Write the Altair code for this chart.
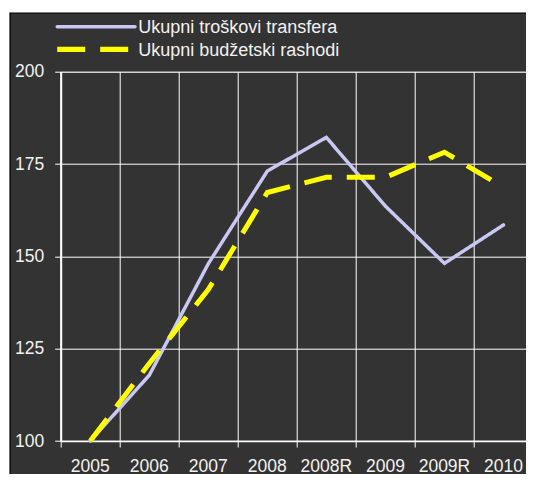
import altair as alt
import pandas as pd

categories = ["2005", "2006", "2007", "2008", "2008R", "2009", "2009R", "2010"]
series_names = ["Ukupni troškovi transfera", "Ukupni budžetski rashodi"]
transfer = [100, 117.8, 148.0, 173.1, 182.2, 163.6, 148.1, 158.5]
budget = [100, 121.0, 141.0, 167.3, 171.4, 171.4, 178.2, 168.7]
y_ticks = [100, 125, 150, 175, 200]
series_colors = ["#c8c8f4", "#ffff00"]
series_dashes = [[1, 0], [28, 15]]

rows = []
for c, v in zip(categories, transfer):
    rows.append({"cat": c, "series": series_names[0], "value": v})
for c, v in zip(categories, budget):
    rows.append({"cat": c, "series": series_names[1], "value": v})
df = pd.DataFrame(rows)

FONT = "Arial"
FS = 17.5
LFS = 18
W, H = 472.3, 369.3
TOTAL_W, TOTAL_H = 518, 466
PAD = {"left": 52.7, "top": 63.7}
PAD["right"] = TOTAL_W - PAD["left"] - W
PAD["bottom"] = TOTAL_H - PAD["top"] - H

x_enc = alt.X(
    "cat:N",
    sort=categories,
    title=None,
    scale=alt.Scale(type="band", paddingInner=0, paddingOuter=0),
    axis=alt.Axis(
        bandPosition=0,
        labelOffset=0,
        labelAngle=0,
        grid=True,
        gridColor="#ffffff",
        gridWidth=1,
        domainColor="#ffffff",
        domainWidth=1.5,
        tickColor="#ffffff",
        tickSize=6,
        labelPadding=10,
        labelFontSize=FS,
        labelColor="#f2f2f2",
        labelFont=FONT,
    ),
)
y_enc = alt.Y(
    "value:Q",
    title=None,
    scale=alt.Scale(domain=[100, 200], nice=False, zero=False),
    axis=alt.Axis(
        values=y_ticks,
        grid=True,
        gridColor="#ffffff",
        gridWidth=1,
        domainColor="#ffffff",
        domainWidth=2,
        tickColor="#ffffff",
        tickSize=6,
        labelPadding=11,
        labelFontSize=FS,
        labelColor="#f2f2f2",
        labelFont=FONT,
    ),
)
color_enc = alt.Color(
    "series:N",
    scale=alt.Scale(domain=series_names, range=series_colors),
    legend=None,
)
dash_enc = alt.StrokeDash(
    "series:N",
    scale=alt.Scale(domain=series_names, range=series_dashes),
    legend=None,
)

base = alt.Chart(df).encode(x=x_enc, y=y_enc, color=color_enc, strokeDash=dash_enc)

line_t = base.transform_filter(alt.datum.series == series_names[0]).mark_line(
    strokeWidth=3.5, strokeCap="round"
)
line_b = base.transform_filter(alt.datum.series == series_names[1]).mark_line(
    strokeWidth=5
)

# white page strips outside the dark panel, and the panel's black border
deco = pd.DataFrame({"k": [0]})
strip_top = alt.Chart(deco).mark_rect(color="#ffffff").encode(
    x=alt.value(-60), x2=alt.value(W + 10), y=alt.value(-70), y2=alt.value(-58.7)
)
strip_left = alt.Chart(deco).mark_rect(color="#ffffff").encode(
    x=alt.value(-60), x2=alt.value(-50.7), y=alt.value(-70), y2=alt.value(H + 60)
)
border_top = alt.Chart(deco).mark_rule(color="#000000", strokeWidth=1.2).encode(
    x=alt.value(-51), x2=alt.value(W + 10), y=alt.value(-58.7)
)
border_left = alt.Chart(deco).mark_rule(color="#000000", strokeWidth=1.2).encode(
    x=alt.value(-50.7), y=alt.value(-59), y2=alt.value(H + 60)
)

# legend (drawn as a key: sample line + label per series)
legend_layers = []
legend_rows_y = [-45.0, -22.4]
legend_widths = [3.5, 5.3]
for name, col, dash, ly, lw in zip(series_names, series_colors, series_dashes, legend_rows_y, legend_widths):
    legend_layers.append(
        alt.Chart(deco).mark_rule(color=col, strokeWidth=lw, strokeDash=dash,
                                  strokeCap="round" if dash == [1, 0] else "butt").encode(
            x=alt.value(-3.5), x2=alt.value(74.3), y=alt.value(ly)
        )
    )
    legend_layers.append(
        alt.Chart(deco).mark_text(
            text=name, align="left", baseline="alphabetic", fontSize=LFS,
            font=FONT, color="#f2f2f2",
        ).encode(x=alt.value(77.5), y=alt.value(ly + 6.5))
    )

chart = (
    alt.layer(strip_top, strip_left, border_top, border_left, line_t, line_b, *legend_layers)
    .properties(
        width=W,
        height=H,
        padding=PAD,
        autosize=alt.AutoSizeParams(type="none"),
        background="#333333",
    )
    .configure_view(stroke="#8c8c8c", strokeWidth=1)
)

chart.save("out.html", embed_options={"renderer": "svg", "actions": False})
